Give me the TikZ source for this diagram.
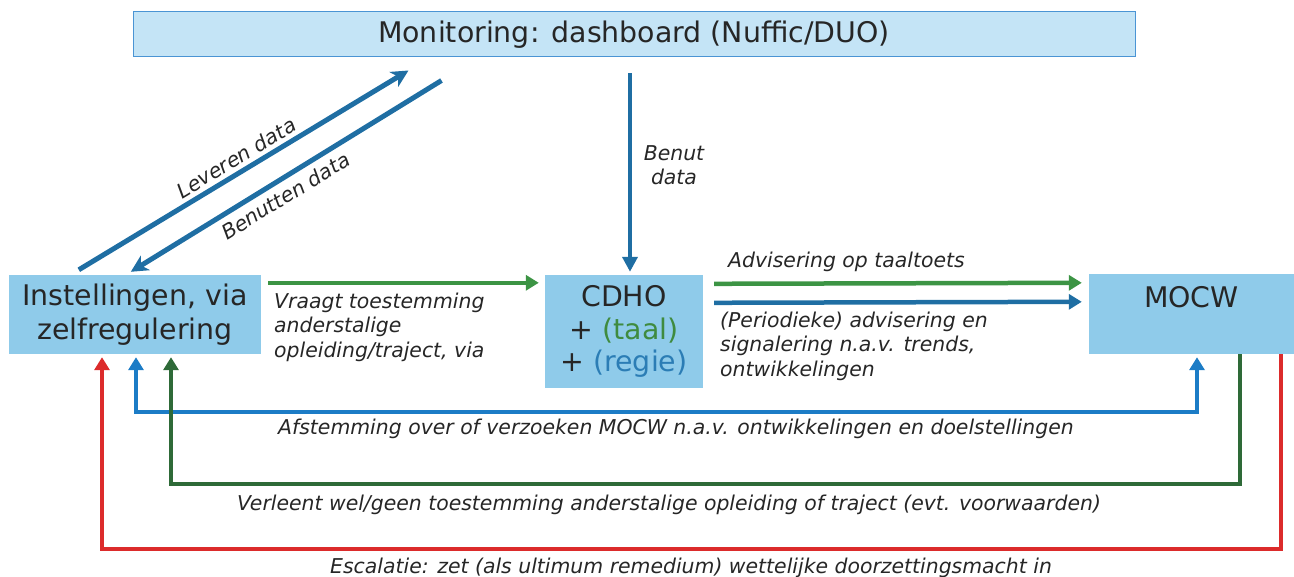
\documentclass[tikz,border=0pt]{standalone}
\usepackage{fontspec}
\setmainfont{DejaVu Sans}[ItalicFont={DejaVu Sans Oblique}]
\usetikzlibrary{arrows.meta,calc}
\definecolor{boxfill}{HTML}{8FCBEA}
\definecolor{monfill}{HTML}{C4E4F6}
\definecolor{monline}{HTML}{4A94D4}
\definecolor{steel}{HTML}{1F6EA3}
\definecolor{topgreen}{HTML}{3C9444}
\definecolor{fbblue}{HTML}{1C7CC6}
\definecolor{fbgreen}{HTML}{2E6A38}
\definecolor{fbred}{HTML}{DC2B2B}
\definecolor{txt}{HTML}{262626}
\definecolor{taalgreen}{HTML}{3F8B3F}
\definecolor{regieblue}{HTML}{2B7DB5}
\begin{document}
\begin{tikzpicture}[x=1pt,y=-1pt,
  box/.style={rectangle, fill=boxfill, inner sep=0pt, text=txt, align=center,
    font=\fontsize{28.4}{34}\selectfont},
  lbl/.style={font=\fontsize{20.4}{24.5}\selectfont\itshape, text=txt, inner sep=0pt, align=left},
  arr/.style={line width=4.5pt, -{Triangle[length=13pt,width=15pt]}},
  darr/.style={line width=4.5pt, {Triangle[length=13pt,width=15pt]}-{Triangle[length=13pt,width=15pt]}},
  diag/.style={line width=5pt, steel, -{Stealth[length=17pt,width=17pt,inset=5pt]}}
]
\useasboundingbox (0,0) rectangle (1294,577);

% boxes
\node[rectangle, fill=monfill, draw=monline, line width=1pt, minimum width=1002pt, minimum height=45pt,
  text=txt, font=\fontsize{28.4}{34}\selectfont] (mon) at (634,34.5) {Monitoring: dashboard (Nuffic/DUO)};
\node[box, minimum width=252pt, minimum height=79pt] (inst) at (135,314.5) {Instellingen, via\\zelfregulering};
\node[box, minimum width=158pt, minimum height=113pt, font=\fontsize{28.4}{32.5}\selectfont] (cdho) at (624,331.5)
  {CDHO\\+ {\color{taalgreen}(taal)}\\+ {\color{regieblue}(regie)}};
\node[box, minimum width=205pt, minimum height=80pt] (mocw) at (1191.5,314) {MOCW\\~};

% data arrows
\draw[diag] ($(inst.north west)+(70,-5)$) -- node[sloped, above=4pt, lbl] (levl) {Leveren data} ($(mon.south west)+(276,13)$);
\draw[diag] ($(mon.south west)+(309,23)$) -- node[sloped, below=6pt, pos=0.53, lbl] (benl) {Benutten data} ($(inst.north west)+(122,-3)$);
\draw[line width=4pt, steel, -{Triangle[length=15pt,width=15pt]}] ($(mon.south)+(-4,16)$) -- ($(cdho.north)+(6,-3)$);
\node[lbl, align=center, anchor=north] (benut) at (674,145.4) {Benut\\data};

% top arrows
\draw[arr, topgreen] ($(inst.north east)+(7,8)$) -- ($(cdho.north west)+(-6,8)$);
\node[lbl, anchor=north west] (vraagt) at (274,292.4) {Vraagt toestemming\\anderstalige\\opleiding/traject, via};
\draw[arr, topgreen] ($(cdho.north east)+(11,9)$) -- ($(mocw.north west)+(-7,9)$);
\draw[arr, steel] ($(cdho.north east)+(11,28)$) -- ($(mocw.north west)+(-7,28)$);
\node[lbl, anchor=base west] (advis) at (728,268) {Advisering op taaltoets};
\node[lbl, anchor=north west] (period) at (720,311.8) {(Periodieke) advisering en\\signalering n.a.v. trends,\\ontwikkelingen};

% feedback loops
\coordinate (cblue) at (600,412);
\coordinate (cgreen) at (600,484);
\coordinate (cred) at (600,549);
\draw[darr, fbblue] ($(inst.south)+(1,3)$) |- (cblue) -| ($(mocw.south)+(5.5,3)$);
\draw[arr, fbgreen] ($(mocw.south)+(48.5,0)$) |- (cgreen) -| ($(inst.south)+(36,3)$);
\draw[arr, fbred] ($(mocw.south)+(89.5,0)$) |- (cred) -| ($(inst.south)+(-33,3)$);
\node[lbl, anchor=base west] (afst) at (278,435) {Afstemming over of verzoeken MOCW n.a.v. ontwikkelingen en doelstellingen};
\node[lbl, anchor=base west] (verl) at (237,510) {Verleent wel/geen toestemming anderstalige opleiding of traject (evt. voorwaarden)};
\node[lbl, anchor=base west] (escal) at (330,573) {Escalatie: zet (als ultimum remedium) wettelijke doorzettingsmacht in};
\end{tikzpicture}
\end{document}
